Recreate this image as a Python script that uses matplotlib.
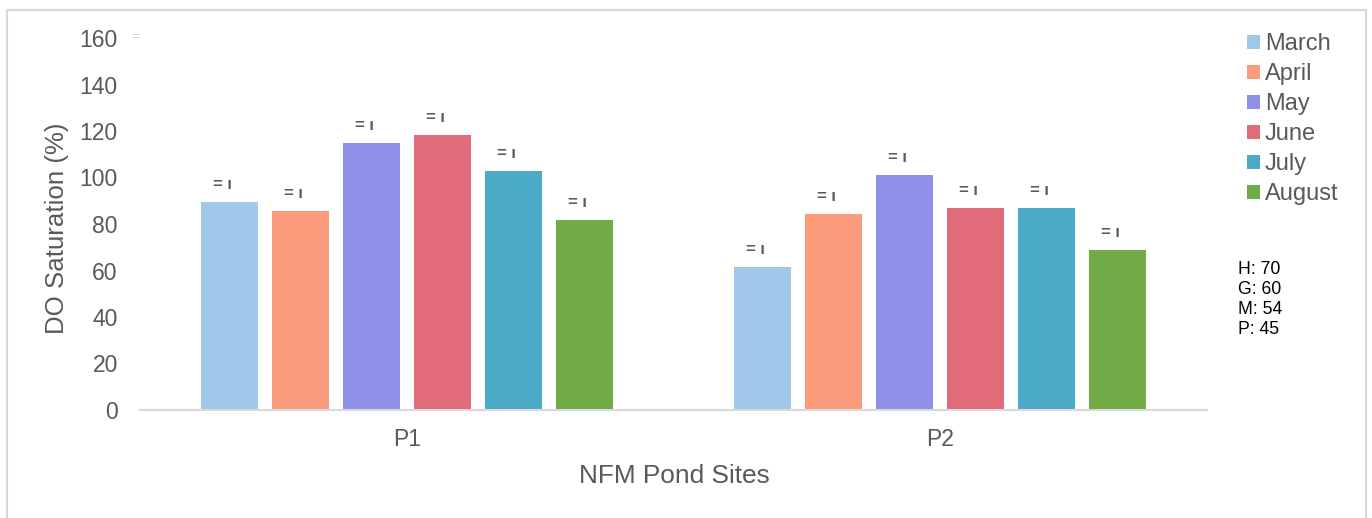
import matplotlib
matplotlib.use('Agg')
import matplotlib.pyplot as plt
from matplotlib.patches import Rectangle
import numpy as np

plt.rcParams['font.family'] = ['Liberation Sans', 'DejaVu Sans']

# 数据
SITES = ['P1', 'P2']
MONTHS = ['March', 'April', 'May', 'June', 'July', 'August']
DO_SAT = {
    'March':  [89.5, 61.5],
    'April':  [85.6, 84.3],
    'May':    [114.8, 101.1],
    'June':   [118.3, 86.9],
    'July':   [102.8, 86.9],
    'August': [81.7, 68.8],
}
COLORS = ['#9FC8EB', '#FC9B7C', '#8E8FE8', '#E06C7A', '#4BABC6', '#70AB46']
MARK_TEXT = '= ı'
NOTE_LINES = ['H: 70', 'G: 60', 'M: 54', 'P: 45']

GRAY = '#595959'

fig = plt.figure(figsize=(13.72, 5.18), dpi=100)
ax = fig.add_axes([140 / 1372, 108 / 518, 1067 / 1372, 372 / 518])

x = np.arange(len(SITES))
width = 0.107
step = 0.133
for i, (month, color) in enumerate(zip(MONTHS, COLORS)):
    pos = x + (i - 2.5) * step
    vals = DO_SAT[month]
    ax.bar(pos, vals, width=width, color=color, label=month, zorder=2)
    # 柱顶上方的标记
    for px, v in zip(pos, vals):
        ax.annotate(MARK_TEXT, xy=(px, v), xytext=(-7, 10),
                    textcoords='offset pixels', ha='center', va='bottom',
                    fontsize=12, color=GRAY, fontweight='bold')

ax.set_xlim(-0.5, 1.5)
ax.set_ylim(0, 160)
ax.set_yticks(range(0, 161, 20))
ax.set_xticks(x)
ax.set_xticklabels(SITES)
for s in ['top', 'right', 'left']:
    ax.spines[s].set_visible(False)
ax.spines['bottom'].set_color('#D9D9D9')
ax.spines['bottom'].set_linewidth(1.5)
ax.tick_params(axis='y', length=0, pad=16, labelsize=16.5, labelcolor=GRAY)
ax.tick_params(axis='x', length=0, pad=13, labelsize=16.5, labelcolor=GRAY)

fig.text(57 / 1372, (518 - 228) / 518, 'DO Saturation (%)', rotation=90,
         ha='center', va='center', fontsize=18.6, color=GRAY)
fig.text(674 / 1372, (518 - 476) / 518, 'NFM Pond Sites',
         ha='center', va='center', fontsize=18.9, color=GRAY)

# 图例
leg = fig.legend(loc='upper left', bbox_to_anchor=(1247 / 1372, 1 - 33 / 518),
                 frameon=False, fontsize=17, handlelength=0.55, handleheight=0.55,
                 handletextpad=0.2, labelspacing=0.34, borderaxespad=0, borderpad=0)
for t in leg.get_texts():
    t.set_color(GRAY)

fig.text(1238 / 1372, 1 - 261 / 518, '\n'.join(NOTE_LINES),
         ha='left', va='top', fontsize=12.7, color='black', linespacing=1.22)

# 左上角残留符号
fig.text(136 / 1372, 1 - 37 / 518, '=', ha='center', va='center',
         fontsize=9, color='#CFCFCF')

# 外框
fig.patches.append(Rectangle((7 / 1372, -0.05), 1359 / 1372, 1.05 - 10 / 518,
                             transform=fig.transFigure, fill=False,
                             edgecolor='#D9D9D9', linewidth=1.5))

fig.savefig('out.png', dpi=100)
